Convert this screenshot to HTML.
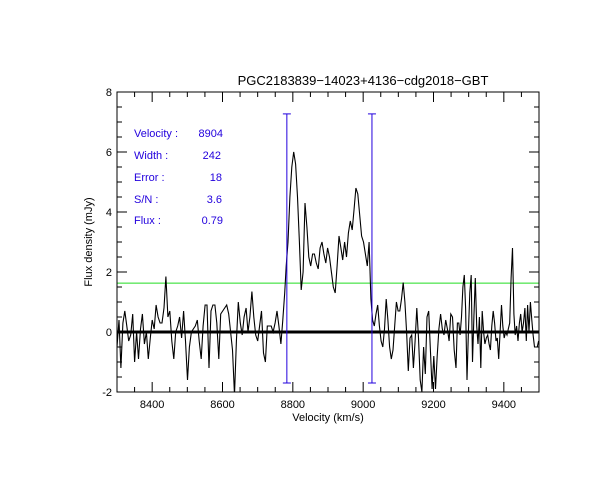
<!DOCTYPE html>
<html><head><meta charset="utf-8"><style>
body{margin:0;background:#fff;}
svg{display:block;font-family:"Liberation Sans",sans-serif;}
</style></head><body>
<svg id="chart" width="612" height="500" viewBox="0 0 612 500" xmlns="http://www.w3.org/2000/svg">
<rect width="612" height="500" fill="#fff"/>
<text x="363" y="85" font-size="13" text-anchor="middle" fill="#000">PGC2183839−14023+4136−cdg2018−GBT</text>
<text transform="translate(92,242) rotate(-90)" font-size="11" text-anchor="middle" fill="#000">Flux density (mJy)</text>
<text x="328" y="421" font-size="11" text-anchor="middle" fill="#000">Velocity (km/s)</text>
<g id="info" font-size="11" fill="#2200dd">
<text x="134" y="137">Velocity :</text><text x="223" y="137" text-anchor="end">8904</text>
<text x="134" y="159">Width :</text><text x="221" y="159" text-anchor="end">242</text>
<text x="134" y="181">Error :</text><text x="222" y="181" text-anchor="end">18</text>
<text x="134" y="203">S/N :</text><text x="222" y="203" text-anchor="end">3.6</text>
<text x="134" y="224">Flux :</text><text x="223" y="224" text-anchor="end">0.79</text>
</g>
<g id="plot"></g>
</svg>
<script>
const xDomain = [8300, 9500];
const yDomain = [-2, 8];
const xTickLabels = [8400, 8600, 8800, 9000, 9200, 9400];
const yTickLabels = [-2, 0, 2, 4, 6, 8];
const rmsLevel = 1.63;
const windowLow = 8783;
const windowHigh = 9025;
const windowTop = 7.27;
const windowBottom = -1.7;
const segStart = [8300, 8612, 8781, 9022, 9264];
const segEnd = [8595, 8777, 9017, 9259, 9499];
const seg0 = [-0.5,0.4,-1.2,0.3,0.7,0.2,-0.3,-0.1,0.6,-1.0,0,-0.9,0.1,0.6,-0.4,0.0,-0.9,-0.2,0.4,0.1,0.9,0.5,0.3,0.3,0.8,1.85,0.5,0.7,-0.3,-0.9,0.0,0.2,0.5,-0.2,0.7,-0.3,-1.6,-0.5,0.0,0.1,0.2,0.4,-0.3,-0.9,0.2,0.9,0.9,-1.2,0.7,0.9,0.9,0.3,-0.9,0.6];
const seg1 = [0.9,0.6,0.0,-0.6,-2.1,-0.3,1.0,0.3,-0.1,0.5,0.8,0.0,0.5,1.35,0.5,-0.1,-0.3,0.2,0.7,-0.7,-1.0,0.2,0.2,0.2,0.0,0.3,0.7,0.2,-0.4,0.4,1.3];
const seg2 = [2.2,3.0,4.5,5.5,6.0,5.6,4.5,3.0,1.4,2.0,4.3,3.5,2.5,2.2,2.6,2.6,2.3,2.1,2.8,3.0,2.6,2.3,2.8,2.5,2.0,1.5,1.3,2.2,3.2,2.8,2.4,3.0,2.5,3.3,3.7,3.4,4.1,4.8,4.6,3.9,3.2,3.0,2.6,2.2,3.0];
const seg3 = [1.1,0.4,0.2,0.6,0.9,0.2,-0.3,-0.5,0.1,1.1,0.4,-0.5,-0.9,-0.6,0.2,1.0,0.7,0.7,1.1,1.65,1.0,0.0,-1.3,-0.2,-0.1,-1.2,-0.3,0.8,-0.2,-1.6,-2.0,-0.5,-1.4,0.5,0.7,-0.6,-1.9,-0.8,-1.9,-0.8,0.1,0.6,0.1,-0.1,0.4,0.1,-0.3,0.6,0.5,-0.6];
const seg4 = [-1.2,0.3,0.3,-0.1,0.5,1.5,1.9,0.8,-1.6,0.0,1.3,1.9,-1.0,0.5,1.8,0.2,-0.4,0.5,-1.2,0.7,0.0,-0.4,-0.2,-0.1,-0.4,-0.6,0.2,0.7,0.3,-0.3,-0.2,-0.9,0.0,0.9,0.2,-0.2,0.0,-0.1,0.1,0.3,1.8,2.8,0.6,-0.1,0.2,-0.3,0.3,0.6,0.0,0.3,0.8,-0.3,0.9,0.0,1.0,0.4,-0.1,-0.5,-0.5,-0.5,-0.3];
const segValues = [seg0, seg1, seg2, seg3, seg4];

const L=117,R=539,T=92,B=392;
const sx=v=>L+(v-xDomain[0])/(xDomain[1]-xDomain[0])*(R-L);
const sy=v=>B-(v-yDomain[0])/(yDomain[1]-yDomain[0])*(B-T);
const NS="http://www.w3.org/2000/svg";
const plot=document.getElementById('plot');
function mk(tag,attrs){const e=document.createElementNS(NS,tag);for(const k in attrs)e.setAttribute(k,attrs[k]);plot.appendChild(e);return e;}

// rms line
let e=mk('line',{x1:L,x2:R,y1:sy(rmsLevel),y2:sy(rmsLevel),stroke:'#22dd22','stroke-width':1});



// spectrum
let pts=[];
segValues.forEach((arr,s)=>{const n=arr.length;arr.forEach((v,i)=>{const vel=segStart[s]+(segEnd[s]-segStart[s])*(n>1?i/(n-1):0);pts.push(sx(vel).toFixed(1)+','+sy(Math.max(v,yDomain[0]-0.1)).toFixed(1));});});
e=mk('polyline',{points:pts.join(' '),fill:'none',stroke:'#000','stroke-width':1.1,'clip-path':'url(#clip)'});


const cp=document.createElementNS(NS,'clipPath');cp.setAttribute('id','clip');
const cr=document.createElementNS(NS,'rect');cr.setAttribute('x',L);cr.setAttribute('y',T);cr.setAttribute('width',R-L);cr.setAttribute('height',B-T);cp.appendChild(cr);plot.appendChild(cp);

// zero line
e=mk('line',{x1:L,x2:R,y1:sy(0),y2:sy(0),stroke:'#000','stroke-width':3});



// window markers
[windowLow,windowHigh].forEach((w,i)=>{
  const g=mk('g',{stroke:'#2200dd','stroke-width':1});
  
  
  const x=sx(w);
  [[x,sy(windowTop),x,sy(windowBottom)],[x-4,sy(windowTop),x+4,sy(windowTop)],[x-4,sy(windowBottom),x+4,sy(windowBottom)]].forEach(c=>{
    const l=document.createElementNS(NS,'line');l.setAttribute('x1',c[0]);l.setAttribute('y1',c[1]);l.setAttribute('x2',c[2]);l.setAttribute('y2',c[3]);g.appendChild(l);});
});

// frame
e=mk('rect',{x:L,y:T,width:R-L,height:B-T,fill:'none',stroke:'#000','stroke-width':1});



// ticks
let d='';
for(let v=xDomain[0];v<=xDomain[1];v+=50){const x=sx(v);const len=(v%200===0)?10:5;d+=`M${x},${B}v${-len}M${x},${T}v${len}`;}
for(let v=yDomain[0];v<=yDomain[1]+0.01;v+=0.5){const y=sy(v);const len=(Math.abs(v%2)<0.01)?10:5;d+=`M${L},${y}h${len}M${R},${y}h${-len}`;}
e=mk('path',{d:d,stroke:'#000','stroke-width':1,fill:'none'});



xTickLabels.forEach(v=>{const t=mk('text',{x:sx(v),y:B+16,'font-size':11,'text-anchor':'middle',fill:'#000'});t.textContent=v;

});
yTickLabels.forEach(v=>{const t=mk('text',{x:L-5,y:sy(v)+4,'font-size':11,'text-anchor':'end',fill:'#000'});t.textContent=v;

});
</script>
</body></html>
